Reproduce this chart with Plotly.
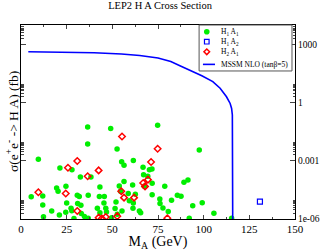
import plotly.graph_objects as go

# H1 A1 points (M_A in GeV, sigma in fb)
h1a1_m = [36.5, 49.1, 74.8, 36.5, 52.6, 97.6, 9.5, 55.1, 61.5, 56.4, 21.3, 27.9, 66.8, 70.3, 71.7,
          67.1, 32.5, 38.3, 69.4, 56.4, 71.8, 61.1, 67.5, 53.8, 19.5, 24.6, 43.2, 78.7, 20.3, 54.5,
          58.7, 62.6, 71.8, 30.8, 31.9, 36.8, 42.9, 45.6, 5.6, 11.9, 76.0, 82.4, 85.6, 87.6, 91.4,
          89.2, 52.0, 59.3, 61.5, 45.4, 25.0, 31.0, 32.8, 11.9, 76.1, 77.7, 27.4, 46.4, 51.5, 61.3,
          16.8, 21.0, 12.3, 24.5, 27.8, 33.0, 34.7, 36.8, 29.0, 41.8, 43.2, 46.8, 49.6, 52.7, 55.3,
          64.8, 65.5, 80.6, 94.0, 92.1, 99.2, 105.6, 115.3]
h1a1_s = [0.055, 0.046, 0.068, 0.0074, 0.0041, 0.0036, 0.0012, 8.9e-4, 1.05e-3, 5.9e-4, 4.3e-4, 3.5e-4,
          4.6e-4, 3.5e-4, 3.8e-4, 1.9e-4, 1.45e-4, 1.45e-4, 1.6e-4, 8.6e-5, 7.0e-5, 5.6e-5, 4.9e-5,
          5.0e-5, 4.0e-5, 4.9e-5, 4.5e-5, 4.9e-5, 2.7e-5, 2.7e-5, 2.05e-5, 1.9e-5, 1.8e-5, 1.7e-5,
          1.45e-5, 1.7e-5, 1.45e-5, 1.45e-5, 1.4e-5, 1.55e-5, 1.07e-5, 9.2e-6, 1.7e-5, 1.47e-5,
          1.03e-4, 7.8e-5, 7.6e-6, 8.8e-6, 6.7e-6, 6.7e-6, 6.7e-6, 6.3e-6, 5.1e-6, 5.3e-6, 6.3e-6,
          3.7e-6, 3.6e-6, 3.6e-6, 3.5e-6, 3.6e-6, 2.6e-6, 1.6e-6, 1.3e-6, 2.2e-6, 2.7e-6, 1.9e-6,
          1.35e-6, 1.1e-6, 1.05e-6, 3.6e-6, 2.1e-6, 2.3e-6, 1.17e-6, 1.75e-6, 2.6e-6, 2.6e-6, 2.1e-6,
          2.4e-6, 4.8e-6, 1.1e-6, 6.9e-6, 1.97e-6, 1.1e-6]

# H1 A2 points
h1a2_m = [130.8]
h1a2_s = [7.8e-6]

# H2 A1 points
h2a1_m = [55.3, 74.8, 30.8, 71.2, 25.7, 42.5, 36.5, 69.5, 66.9, 67.9, 9.5, 24.5, 54.9, 56.4, 61.9,
          30.8, 42.5, 44.3, 46.4, 52.7, 80.1]
h2a1_s = [0.018, 0.0042, 9.8e-4, 8.7e-4, 4.4e-4, 3.2e-4, 1.6e-4, 1.07e-4, 7.2e-5, 4.8e-5, 2.4e-5,
          2.05e-5, 2.7e-5, 1.26e-5, 1.26e-5, 2.6e-6, 1.17e-6, 1.05e-6, 1.27e-6, 1.4e-6, 1.1e-6]

# MSSM NLO curve (tan beta = 5)
nlo_m = [4, 20, 40, 55, 65, 75, 82, 87, 93, 99, 105, 109, 112.5, 114.5, 115.3, 115.7, 115.9]
nlo_s = [415, 405, 370, 320, 270, 200, 130, 80, 45, 24, 12, 5.5, 2.0, 0.9, 0.5, 0.23, 1e-6]

legend_labels = ["H<sub>1</sub> A<sub>1</sub>", "H<sub>1</sub> A<sub>2</sub>",
                 "H<sub>2</sub> A<sub>1</sub>", "MSSM NLO (tanβ=5)"]

y_tickvals = [1e-6, 1e-3, 1, 1000]
y_ticktext = ["1e-06", "0.001", "1", "1000"]
y_minor = [k * 10.0 ** e for e in (-6, -3, 0, 3) for k in range(2, 10)]

SERIF = "Liberation Serif, Times New Roman, serif"
GREEN, BLUE, RED = "#00ee00", "#0000ff", "#ff0000"

fig = go.Figure()
fig.add_trace(go.Scatter(x=h1a1_m, y=h1a1_s, mode="markers", name=legend_labels[0],
                         marker=dict(symbol="circle", size=5.5, color=GREEN, line=dict(width=0))))
fig.add_trace(go.Scatter(x=h1a2_m, y=h1a2_s, mode="markers", name=legend_labels[1],
                         marker=dict(symbol="square-open", size=5, color=BLUE, line=dict(width=1.2))))
fig.add_trace(go.Scatter(x=h2a1_m, y=h2a1_s, mode="markers", name=legend_labels[2],
                         marker=dict(symbol="diamond-open", size=5, color=RED, line=dict(width=1.5))))
fig.add_trace(go.Scatter(x=nlo_m, y=nlo_s, mode="lines", name=legend_labels[3],
                         line=dict(color=BLUE, width=1.6)))

fig.update_layout(
    template="none",
    width=330, height=251,
    margin=dict(l=21, r=35, t=25, b=32, autoexpand=False),
    paper_bgcolor="white", plot_bgcolor="white",
    font=dict(family=SERIF, color="black", size=10),
    title=dict(text="LEP2 H A Cross Section", x=0.485, xanchor="center", y=0.995, yanchor="top",
               font=dict(family=SERIF, size=10.5, color="black")),
    showlegend=False,
    xaxis=dict(range=[0, 150], tickmode="linear", tick0=0, dtick=25, ticks="inside", ticklen=4,
               showline=True, linecolor="black", linewidth=1, mirror="ticks", showgrid=False,
               zeroline=False, automargin=False, tickfont=dict(family=SERIF, size=11),
               minor=dict(dtick=12.5, ticks="inside", ticklen=2, showgrid=False),
               title=dict(text="M<sub>A</sub> (GeV)", font=dict(family=SERIF, size=14), standoff=2)),
    yaxis=dict(type="log", range=[-6, 4], side="right", tickmode="array", tickvals=y_tickvals,
               ticktext=y_ticktext, ticks="inside", ticklen=5, showline=True, linecolor="black",
               linewidth=1, mirror="ticks", showgrid=False, zeroline=False, automargin=False,
               tickfont=dict(family=SERIF, size=9.5),
               minor=dict(tickmode="array", tickvals=y_minor, ticks="inside", ticklen=2.5,
                          showgrid=False)),
)

fig.add_annotation(text="σ(e<sup>+</sup>e<sup>-</sup> -> H A) (fb)", xref="paper", yref="paper",
                   x=-0.033, y=0.505, xanchor="center", yanchor="middle", textangle=-90,
                   showarrow=False, font=dict(family=SERIF, size=13.5, color="black"))

# Legend box drawn by hand (compact like the original)
fig.add_shape(type="rect", xref="paper", yref="paper", x0=0.650, x1=0.989, y0=0.763, y1=1.0,
              line=dict(color="#555555", width=1), fillcolor="white", layer="above")
lx, ly = 0.678, [0.9655, 0.914, 0.862, 0.797]
fig.add_shape(type="circle", xref="paper", yref="paper", xsizemode="pixel", ysizemode="pixel",
              xanchor=lx, yanchor=ly[0], x0=-2.8, x1=2.8, y0=-2.8, y1=2.8,
              fillcolor=GREEN, line=dict(width=0), layer="above")
fig.add_shape(type="rect", xref="paper", yref="paper", xsizemode="pixel", ysizemode="pixel",
              xanchor=lx, yanchor=ly[1], x0=-2.3, x1=2.3, y0=-2.3, y1=2.3,
              line=dict(color=BLUE, width=1.2), layer="above")
fig.add_shape(type="path", xref="paper", yref="paper", xsizemode="pixel", ysizemode="pixel",
              xanchor=lx, yanchor=ly[2], path="M 0,2.8 L 2.8,0 L 0,-2.8 L -2.8,0 Z",
              line=dict(color=RED, width=1.5), layer="above")
fig.add_shape(type="line", xref="paper", yref="paper", x0=0.664, x1=0.708, y0=ly[3], y1=ly[3],
              line=dict(color=BLUE, width=1.6), layer="above")
for lab, yy in zip(legend_labels, ly):
    fig.add_annotation(text=lab, xref="paper", yref="paper", x=0.722, y=yy, xanchor="left",
                       yanchor="middle", showarrow=False,
                       font=dict(family=SERIF, size=7.5, color="black"))

fig.write_html("out.html", config={"displayModeBar": False},
               post_script="document.body.style.margin='0px';")
